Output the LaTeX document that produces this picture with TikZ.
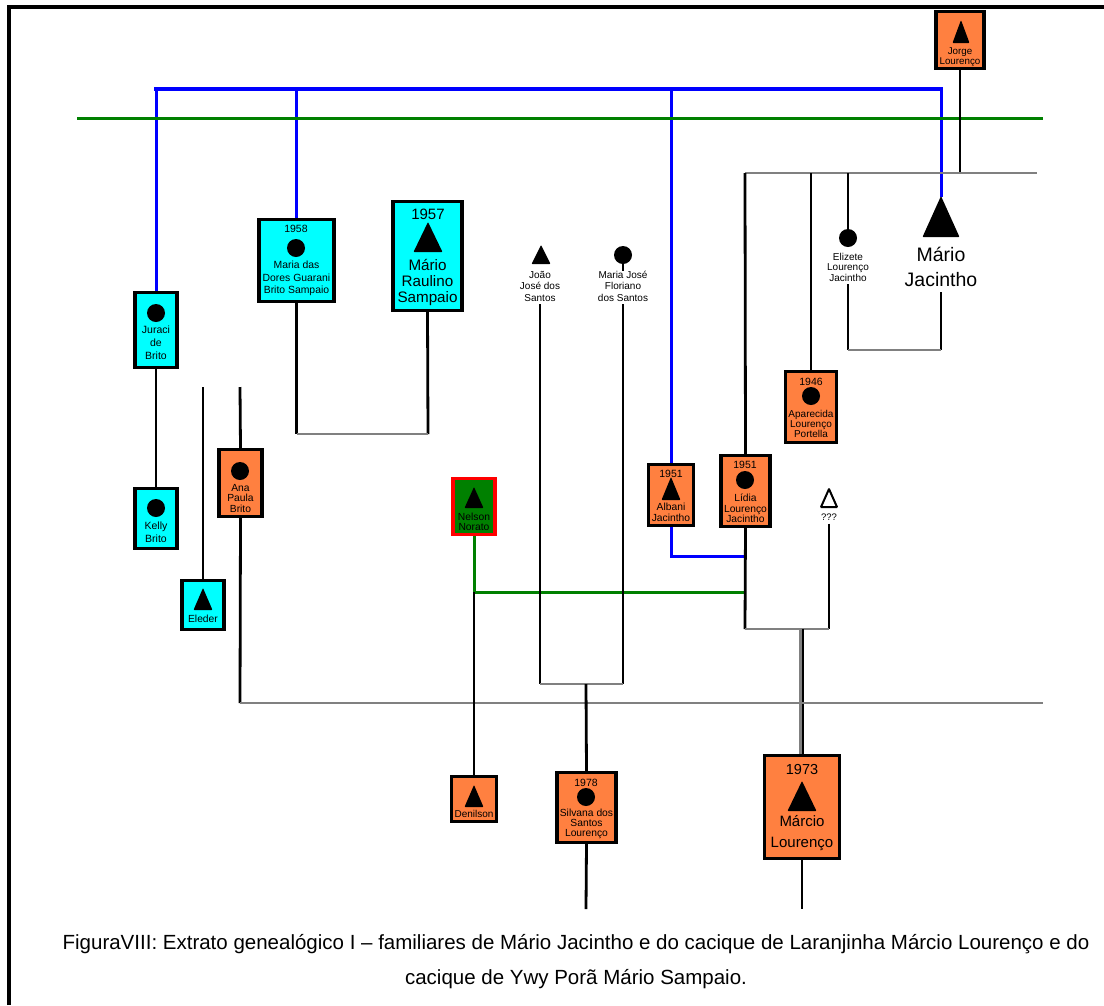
\documentclass[tikz,border=0pt]{standalone}
\usepackage{fontspec}
\setmainfont{Liberation Sans}
\definecolor{boxorange}{RGB}{255,128,64}
\definecolor{boxcyan}{RGB}{0,255,255}
\definecolor{linegreen}{RGB}{0,128,0}
\definecolor{linegray}{RGB}{128,128,128}
\usetikzlibrary{backgrounds}

% triangulo (homem): x, y do vertice, largura, altura
\newcommand{\masc}[4]{\fill[rounded corners=0.8pt] (#1,#2) -- ++({-#3/2},#4) -- ++(#3,0) -- cycle;}

\begin{document}
\begin{tikzpicture}[x=1pt, y=-1pt,
    pessoa/.style={draw, line width=3.2pt, inner sep=0pt},
    laranja/.style={pessoa, fill=boxorange},
    ciano/.style={pessoa, fill=boxcyan},
    fem/.style={circle, fill=black, inner sep=0pt, minimum size=18pt},
    nome/.style={align=center, inner sep=0pt, font=\fontsize{10.3}{10.5}\selectfont},
    ano/.style={inner sep=0pt, font=\fontsize{10.5}{12}\selectfont},
    preto/.style={line width=2.8pt},
    cinza/.style={line width=2.8pt, linegray},
    azul/.style={line width=3pt, blue},
    verde/.style={line width=3pt, linegreen}]
    \useasboundingbox (0,0) rectangle (1104,1005);

    % Moldura
    \draw[line width=4pt] (9,1005) -- (9,7) -- (1104,7);

    % Jorge Lourenço
    \node[laranja, minimum width=48, minimum height=57] (jorge) at (960,40) {};
    \masc{961}{20}{17}{23}
    \node[nome, font=\fontsize{9.8}{10.5}\selectfont] (jorgeN) at (960,57) {Jorge\\Lourenço};

    % Juraci de Brito
    \node[ciano, minimum width=42, minimum height=75] (juraci) at (156,330) {};
    \node[fem] (juraciS) at (156,313) {};
    \node[nome, font=\fontsize{10.5}{13}\selectfont] (juraciN) at (156,343) {Juraci\\de\\Brito};

    % Kelly Brito
    \node[ciano, minimum width=42, minimum height=60] (kelly) at (156,518.5) {};
    \node[fem] (kellyS) at (156,508) {};
    \node[nome, font=\fontsize{10.5}{13}\selectfont] (kellyN) at (156,532.5) {Kelly\\Brito};

    % Maria das Dores Guarani Brito Sampaio
    \node[ciano, minimum width=75, minimum height=82] (dores) at (296.5,260.5) {};
    \node[ano] (doresA) at (296,229) {1958};
    \node[fem] (doresS) at (296,248) {};
    \node[nome, font=\fontsize{10.4}{12.5}\selectfont] (doresN) at (296.5,278.5) {Maria das\\Dores Guarani\\Brito Sampaio};

    % Mário Raulino Sampaio
    \node[ciano, minimum width=69, minimum height=109] (raulino) at (427.5,256) {};
    \node[ano, font=\fontsize{15}{16}\selectfont] (raulinoA) at (428,214) {1957};
    \masc{428}{222}{29}{30}
    \node[nome, font=\fontsize{15.2}{16}\selectfont] (raulinoN) at (427.5,282) {Mário\\Raulino\\Sampaio};

    % Eleder
    \node[ciano, minimum width=42, minimum height=49] (eleder) at (203,605) {};
    \masc{203}{588}{19}{22}
    \node[nome] (elederN) at (203,619) {Eleder};

    % Ana Paula Brito
    \node[laranja, minimum width=43, minimum height=67] (ana) at (240.5,483) {};
    \node[fem] (anaS) at (240,471) {};
    \node[nome] (anaN) at (240.5,498) {Ana\\Paula\\Brito};

    % Nelson Norato
    \node[pessoa, draw=red, fill=linegreen, minimum width=42, minimum height=56] (nelson) at (474,506.5) {};
    \masc{474}{487}{19}{21}
    \node[nome] (nelsonN) at (474,522) {Nelson\\Norato};

    % João José dos Santos
    \masc{541}{245}{19}{19}
    \node[nome, font=\fontsize{10}{11.5}\selectfont] (joao) at (540,286) {João\\José dos\\Santos};

    % Maria José Floriano dos Santos
    \node[fem] (mariajoseS) at (623,255) {};
    \node[nome, font=\fontsize{10}{11.5}\selectfont] (mariajose) at (623,286) {Maria José\\Floriano\\dos Santos};

    % Albani Jacintho
    \node[laranja, minimum width=45, minimum height=61] (albani) at (671,495) {};
    \node[ano] (albaniA) at (671,474) {1951};
    \masc{671}{477}{19}{23}
    \node[nome, font=\fontsize{10.3}{11}\selectfont] (albaniN) at (671,512.5) {Albani\\Jacintho};

    % Lídia Lourenço Jacintho
    \node[laranja, minimum width=49, minimum height=71] (lidia) at (745.5,491) {};
    \node[ano] (lidiaA) at (745,465) {1951};
    \node[fem] (lidiaS) at (745,480) {};
    \node[nome] (lidiaN) at (745.5,508.5) {Lídia\\Lourenço\\Jacintho};

    % Aparecida Lourenço Portella
    \node[laranja, minimum width=51, minimum height=71] (aparecida) at (811,407) {};
    \node[ano] (aparecidaA) at (811,382) {1946};
    \node[fem] (aparecidaS) at (811,396) {};
    \node[nome, font=\fontsize{10}{10}\selectfont] (aparecidaN) at (811,424) {Aparecida\\Lourenço\\Portella};

    % Elizete Lourenço Jacintho
    \node[fem] (elizeteS) at (848,238) {};
    \node[nome, font=\fontsize{10}{10.5}\selectfont] (elizete) at (848,267) {Elizete\\Lourenço\\Jacintho};

    % Mário Jacintho
    \masc{941}{196}{37}{41}
    \coordinate (mjTopo) at (941,197);
    \node[nome, font=\fontsize{19.5}{25}\selectfont] (mj) at (941,266.5) {Mário\\Jacintho};

    % ???
    \draw[line width=2pt, fill=white, rounded corners=0.5pt] (829,489) -- ++(-8,18) -- ++(16,0) -- cycle;
    \node[nome, font=\fontsize{9.5}{10}\selectfont] (desconhecido) at (829,517) {???};

    % Denilson
    \node[laranja, minimum width=45, minimum height=45] (denilson) at (474,799) {};
    \masc{474}{785}{19}{22}
    \node[nome, font=\fontsize{10}{10}\selectfont] (denilsonN) at (474,814) {Denilson};

    % Silvana dos Santos Lourenço
    \node[laranja, minimum width=59, minimum height=70] (silvana) at (586.5,807.5) {};
    \node[ano] (silvanaA) at (586,783) {1978};
    \node[fem] (silvanaS) at (586,797) {};
    \node[nome, font=\fontsize{10.3}{10}\selectfont] (silvanaN) at (586.5,824) {Silvana dos\\Santos\\Lourenço};

    % Márcio Lourenço
    \node[laranja, minimum width=75, minimum height=103] (marcio) at (802,807) {};
    \node[ano, font=\fontsize{14.5}{16}\selectfont] (marcioA) at (802,769) {1973};
    \masc{802}{781}{29}{30}
    \node[nome, font=\fontsize{15}{21}\selectfont] (marcioN) at (802,833.5) {Márcio\\Lourenço};

    % Pontos de ligacao
    \coordinate (azulL) at (156,89);
    \coordinate (azulR) at (941,89);
    \coordinate (verdeL) at (77,118);
    \coordinate (verdeR) at (1043,118);
    \coordinate (cinzaTopoL) at (745,173);
    \coordinate (cinzaTopoR) at (1037,173);
    \coordinate (mjCasal) at (941,350);
    \coordinate (raulinoJ) at (428,434);
    \coordinate (elederTopo) at (203,387);
    \coordinate (anaTopo) at (240,387);
    \coordinate (azulJ) at (745,556);
    \coordinate (verdeJ) at (745,592);
    \coordinate (lidiaJ) at (745,629);
    \coordinate (santosJ) at (586,684);
    \coordinate (longoL) at (240,703);
    \coordinate (longoR) at (1043,703);
    \coordinate (silvanaFim) at (586,909);
    \coordinate (marcioFim) at (802,909);

    \begin{scope}[on background layer]
        % Linhas azuis
        \draw[azul] (juraci.north) |- (azulR) -- (mjTopo);
        \draw[azul, line width=4.5pt, line cap=rect] (azulL) -- (azulR);
        \draw[azul] (dores.north) -- (dores.north |- azulL);
        \draw[azul] (albani.north) -- (albani.north |- azulL);
        \draw[azul] (albani.south) |- (azulJ);

        % Linhas verdes
        \draw[verde] (verdeL) -- (verdeR);
        \draw[verde] (nelson.south) |- (verdeJ);

        % Familia Lourenço / Jacintho
        \draw[preto] (jorge.south) -- (jorge.south |- cinzaTopoL);
        \draw[cinza] (cinzaTopoL) -- (cinzaTopoR);
        \draw[preto] (lidia.north) -- (cinzaTopoL);
        \draw[preto] (aparecida.north) -- (aparecida.north |- cinzaTopoL);
        \draw[preto] (elizeteS) -- (elizeteS |- cinzaTopoL);
        \draw[preto] ([yshift=-3pt]elizete.south) -- (elizete.south |- mjCasal);
        \draw[preto] ([yshift=-6pt]mj.south) -- (mjCasal);
        \draw[cinza] (elizete.south |- mjCasal) -- (mjCasal);
        \draw[preto] (lidia.south) -- (lidiaJ);
        \draw[preto] ([yshift=-3pt]desconhecido.south) -- (desconhecido.south |- lidiaJ);
        \draw[cinza] (lidiaJ) -- (desconhecido.south |- lidiaJ);
        \draw[cinza] (marcio.north |- lidiaJ) ++(-1.5,0) -- ([xshift=-1.5pt]marcio.north);
        \draw[preto] ([xshift=1pt]marcio.north |- lidiaJ) -- ([xshift=1pt]marcio.north);
        \draw[preto] (marcio.south) -- (marcioFim);

        % Familia Brito / Sampaio
        \draw[preto] (juraci.south) -- (kelly.north);
        \draw[preto] (elederTopo) -- (eleder.north);
        \draw[preto] (anaTopo) -- (ana.north);
        \draw[preto] (ana.south) -- (longoL);
        \draw[cinza] (longoL) -- (longoR);
        \draw[preto] (dores.south) -- (dores.south |- raulinoJ);
        \draw[preto] (raulino.south) -- (raulinoJ);
        \draw[cinza] (dores.south |- raulinoJ) -- (raulinoJ);

        % Familia Santos / Norato
        \draw[preto] (verdeJ -| nelson.south) -- (denilson.north);
        \draw[preto] (mariajoseS) -- (mariajoseS |- mariajose.north);
        \draw[preto] ([yshift=-3pt]joao.south) -- (joao.south |- santosJ);
        \draw[preto] ([yshift=-3pt]mariajose.south) -- (mariajose.south |- santosJ);
        \draw[cinza] (joao.south |- santosJ) -- (mariajose.south |- santosJ);
        \draw[preto] (santosJ) -- (silvana.north);
        \draw[preto] (silvana.south) -- (silvanaFim);
    \end{scope}

    % Legenda
    \node[align=center, inner sep=0pt, font=\fontsize{20.5}{35}\selectfont] (legenda) at (576,962)
        {FiguraVIII: Extrato genealógico I – familiares de Mário Jacintho e do cacique de Laranjinha Márcio Lourenço e do\\cacique de Ywy Porã Mário Sampaio.};
\end{tikzpicture}
\end{document}
